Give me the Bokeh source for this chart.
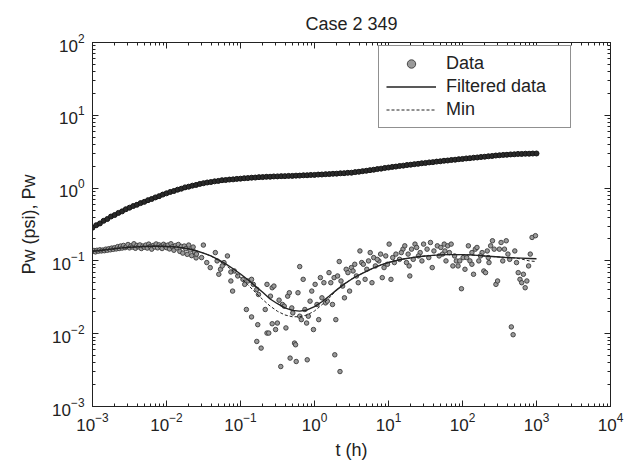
from bokeh.plotting import figure
from bokeh.models import (LogAxis, FixedTicker, LogTickFormatter, CustomJSTickFormatter,
                          Legend, LegendItem, ColumnDataSource)
from bokeh.embed import file_html
from bokeh.resources import INLINE

# ---------------- data ----------------
title_text = "Case 2 349"
x_label = "t (h)"
y_label = "Pw (psi), Pw"
x_ticks = [1e-3, 1e-2, 1e-1, 1e0, 1e1, 1e2, 1e3, 1e4]
y_ticks = [1e-3, 1e-2, 1e-1, 1e0, 1e1, 1e2]

# pressure (upper curve)
t_pw = [
    1.000e-3, 1.122e-3, 1.259e-3, 1.413e-3, 1.585e-3, 1.778e-3, 1.995e-3, 2.239e-3, 2.512e-3, 2.818e-3,
    3.162e-3, 3.548e-3, 3.981e-3, 4.467e-3, 5.012e-3, 5.623e-3, 6.310e-3, 7.079e-3, 7.943e-3, 8.913e-3,
    1.000e-2, 1.122e-2, 1.259e-2, 1.413e-2, 1.585e-2, 1.778e-2, 1.995e-2, 2.239e-2, 2.512e-2, 2.818e-2,
    3.162e-2, 3.548e-2, 3.981e-2, 4.467e-2, 5.012e-2, 5.623e-2, 6.310e-2, 7.079e-2, 7.943e-2, 8.913e-2,
    1.000e-1, 1.122e-1, 1.259e-1, 1.413e-1, 1.585e-1, 1.778e-1, 1.995e-1, 2.239e-1, 2.512e-1, 2.818e-1,
    3.162e-1, 3.548e-1, 3.981e-1, 4.467e-1, 5.012e-1, 5.623e-1, 6.310e-1, 7.079e-1, 7.943e-1, 8.913e-1,
    1.000, 1.122, 1.259, 1.413, 1.585, 1.778, 1.995, 2.239, 2.512, 2.818,
    3.162, 3.548, 3.981, 4.467, 5.012, 5.623, 6.310, 7.079, 7.943, 8.913,
    10.00, 11.22, 12.59, 14.13, 15.85, 17.78, 19.95, 22.39, 25.12, 28.18,
    31.62, 35.48, 39.81, 44.67, 50.12, 56.23, 63.10, 70.79, 79.43, 89.13,
    100.0, 112.2, 125.9, 141.3, 158.5, 177.8, 199.5, 223.9, 251.2, 281.8,
    316.2, 354.8, 398.1, 446.7, 501.2, 562.3, 631.0, 707.9, 794.3, 891.3,
    1000.0,
]
pw = [
    0.286, 0.309, 0.327, 0.355, 0.376, 0.407, 0.427, 0.456, 0.479, 0.512,
    0.538, 0.567, 0.590, 0.622, 0.647, 0.682, 0.709, 0.745, 0.775, 0.815,
    0.848, 0.885, 0.912, 0.951, 0.981, 1.023, 1.046, 1.080, 1.105, 1.141,
    1.168, 1.194, 1.211, 1.238, 1.255, 1.283, 1.291, 1.310, 1.318, 1.338,
    1.348, 1.365, 1.372, 1.389, 1.396, 1.413, 1.416, 1.429, 1.432, 1.445,
    1.448, 1.459, 1.460, 1.471, 1.472, 1.483, 1.485, 1.499, 1.502, 1.515,
    1.518, 1.533, 1.538, 1.553, 1.558, 1.573, 1.579, 1.597, 1.603, 1.621,
    1.627, 1.658, 1.677, 1.709, 1.730, 1.763, 1.788, 1.826, 1.851, 1.890,
    1.917, 1.953, 1.975, 2.013, 2.035, 2.074, 2.096, 2.132, 2.154, 2.193,
    2.216, 2.253, 2.274, 2.312, 2.335, 2.374, 2.395, 2.433, 2.455, 2.493,
    2.516, 2.553, 2.575, 2.613, 2.635, 2.674, 2.697, 2.737, 2.761, 2.801,
    2.826, 2.856, 2.870, 2.900, 2.914, 2.944, 2.946, 2.964, 2.966, 2.983,
    2.988,
]

# derivative data (lower scatter)
t_der = [
    1.000e-3, 1.047e-3, 1.096e-3, 1.148e-3, 1.202e-3, 1.259e-3, 1.318e-3, 1.380e-3, 1.445e-3, 1.514e-3,
    1.585e-3, 1.660e-3, 1.738e-3, 1.820e-3, 1.905e-3, 1.995e-3, 2.089e-3, 2.188e-3, 2.291e-3, 2.399e-3,
    2.512e-3, 2.630e-3, 2.754e-3, 2.884e-3, 3.020e-3, 3.162e-3, 3.311e-3, 3.467e-3, 3.631e-3, 3.802e-3,
    3.981e-3, 4.169e-3, 4.365e-3, 4.571e-3, 4.786e-3, 5.012e-3, 5.248e-3, 5.495e-3, 5.754e-3, 6.026e-3,
    6.310e-3, 6.607e-3, 6.918e-3, 7.244e-3, 7.586e-3, 7.943e-3, 8.318e-3, 8.710e-3, 9.120e-3, 9.550e-3,
    1.000e-2, 1.047e-2, 1.096e-2, 1.148e-2, 1.202e-2, 1.259e-2, 1.318e-2, 1.380e-2, 1.445e-2, 1.514e-2,
    1.585e-2, 1.660e-2, 1.738e-2, 1.820e-2, 1.905e-2, 1.995e-2, 2.089e-2, 2.188e-2, 2.291e-2, 2.399e-2,
    2.512e-2,
    0.0315, 0.0254, 0.0298, 0.0350, 0.0390, 0.0457, 0.0483, 0.0537, 0.0598, 0.0666,
    0.0509, 0.0567, 0.0741, 0.0825, 0.0741, 0.0782, 0.0918, 0.108, 0.114, 0.126,
    0.141, 0.149, 0.166, 0.175, 0.120, 0.141, 0.171, 0.166, 0.190, 0.216,
    0.228, 0.254, 0.268, 0.283, 0.228, 0.241, 0.268, 0.298, 0.315, 0.332,
    0.350, 0.369, 0.390, 0.411, 0.434, 0.457, 0.468, 0.493, 0.509, 0.537,
    0.555, 0.566, 0.598, 0.631, 0.631, 0.665, 0.703, 0.741, 0.782, 0.798,
    0.825, 0.871, 0.918, 0.968, 1.02, 1.08, 1.14, 1.20, 1.26, 1.34,
    1.41, 1.49, 1.66, 1.75, 1.84, 1.88, 1.94, 2.05, 2.16, 2.21,
    2.28, 2.40, 2.54, 2.68, 2.83, 2.98, 3.15, 3.50, 3.69, 3.90,
    4.11, 4.34, 4.57, 4.83, 5.09, 5.37, 5.66, 5.98, 6.31, 6.65,
    7.41, 7.82, 8.24, 8.71, 9.18, 9.68, 10.2, 10.8, 11.4, 12.0,
    12.6, 14.1, 15.7, 16.6, 17.5, 18.4, 19.4, 20.5, 21.6, 22.8,
    24.0, 26.8, 28.3, 29.8, 33.2, 36.9, 39.0, 41.1, 45.7, 50.9,
    53.7, 56.6, 59.8, 63.1, 70.3, 74.1, 78.2, 82.5, 87.1, 91.8,
    96.8, 102, 108, 120, 126, 134, 141, 149, 157, 166,
    184, 194, 205, 216, 228, 240, 254, 268, 283, 298,
    315, 332, 350, 390, 411, 434, 457, 483, 509, 537,
    566, 598, 631, 665, 703, 741, 782, 824, 871, 968,
    48.3, 66.5, 114, 175, 369, 14.9, 25.4, 35.0, 7.03, 3.32, 1.57, 223, 134, 57.9, 19.0,
]
der = [
    0.134, 0.139, 0.133, 0.140, 0.136, 0.142, 0.137, 0.141, 0.138, 0.145,
    0.140, 0.147, 0.142, 0.150, 0.144, 0.152, 0.146, 0.157, 0.148, 0.160,
    0.150, 0.163, 0.152, 0.158, 0.168, 0.151, 0.161, 0.155, 0.172, 0.149,
    0.163, 0.156, 0.166, 0.148, 0.160, 0.154, 0.165, 0.150, 0.170, 0.158,
    0.145, 0.163, 0.155, 0.171, 0.151, 0.166, 0.157, 0.148, 0.169, 0.160,
    0.152, 0.165, 0.146, 0.172, 0.156, 0.140, 0.162, 0.151, 0.168, 0.135,
    0.158, 0.128, 0.160, 0.147, 0.123, 0.165, 0.141, 0.118, 0.155, 0.132,
    0.110,
    0.165, 0.124, 0.111, 0.0948, 0.0809, 0.130, 0.100, 0.0767, 0.0948, 0.117,
    0.0655, 0.0853, 0.0705, 0.0727, 0.0530, 0.0385, 0.0621, 0.0558, 0.0476, 0.0530,
    0.0558, 0.0476, 0.0406, 0.0346, 0.0215, 0.0170, 0.0133, 0.00783, 0.00634, 0.0215,
    0.0476, 0.0328, 0.0428, 0.0451, 0.0102, 0.0102, 0.0137, 0.0114, 0.0140, 0.0289,
    0.00354, 0.0252, 0.0239, 0.0120, 0.0328, 0.0365, 0.00462, 0.0226, 0.0193, 0.00743,
    0.00705, 0.00415, 0.0365, 0.0835, 0.0174, 0.0156, 0.0558, 0.0215, 0.0140, 0.00438,
    0.0174, 0.0280, 0.0385, 0.0114, 0.0476, 0.0252, 0.0156, 0.0589, 0.0311, 0.0502,
    0.0265, 0.0280, 0.0502, 0.0252, 0.0589, 0.00513, 0.0156, 0.0621, 0.098, 0.00302,
    0.0530, 0.0451, 0.0311, 0.0767, 0.0690, 0.0385, 0.0809, 0.0899, 0.0621, 0.0502,
    0.137, 0.0948, 0.0899, 0.0558, 0.0767, 0.100, 0.130, 0.0502, 0.111, 0.0853,
    0.100, 0.124, 0.0589, 0.0809, 0.117, 0.0899, 0.170, 0.0558, 0.111, 0.0948,
    0.124, 0.105, 0.145, 0.161, 0.0948, 0.124, 0.0621, 0.145, 0.105, 0.170,
    0.153, 0.130, 0.100, 0.170, 0.145, 0.179, 0.0809, 0.137, 0.161, 0.153,
    0.124, 0.170, 0.100, 0.161, 0.170, 0.0853, 0.117, 0.100, 0.0853, 0.100,
    0.0415, 0.111, 0.0767, 0.161, 0.100, 0.0899, 0.0655, 0.145, 0.153, 0.100,
    0.130, 0.0727, 0.0690, 0.137, 0.0948, 0.161, 0.189, 0.145, 0.0476, 0.0530,
    0.145, 0.179, 0.100, 0.189, 0.124, 0.105, 0.0124, 0.00968, 0.137, 0.0948,
    0.0690, 0.0558, 0.0502, 0.0655, 0.0428, 0.0530, 0.0853, 0.124, 0.210, 0.222,
    0.117, 0.130, 0.111, 0.117, 0.145, 0.130, 0.117, 0.111, 0.105, 0.0727, 0.0690, 0.111, 0.130, 0.137, 0.0853,
]

# filtered derivative and minimum curve
t_fit = [
    1.000e-3, 1.259e-3, 1.585e-3, 1.995e-3, 2.512e-3, 3.162e-3, 3.981e-3, 5.012e-3, 6.310e-3, 7.943e-3,
    1.000e-2, 1.259e-2, 1.585e-2, 1.995e-2, 2.512e-2, 3.162e-2, 3.981e-2, 5.012e-2, 6.310e-2, 7.943e-2,
    1.000e-1, 1.259e-1, 1.585e-1, 1.995e-1, 2.512e-1, 3.162e-1, 3.981e-1, 5.012e-1, 6.310e-1, 7.943e-1,
    1.000, 1.259, 1.585, 1.995, 2.512, 3.162, 3.981, 5.012, 6.310, 7.943,
    10.00, 12.59, 15.85, 19.95, 25.12, 31.62, 39.81, 50.12, 63.10, 79.43,
    100.0, 125.9, 158.5, 199.5, 251.2, 316.2, 398.1, 501.2, 631.0, 794.3,
    1000.0,
]
filtered = [
    0.136, 0.139, 0.143, 0.147, 0.151, 0.154, 0.156, 0.158, 0.159, 0.159,
    0.158, 0.156, 0.152, 0.146, 0.138, 0.128, 0.117, 0.104, 0.091, 0.078,
    0.066, 0.055, 0.045, 0.037, 0.030, 0.0258, 0.0226, 0.0209, 0.0204, 0.0212,
    0.0235, 0.0275, 0.033, 0.040, 0.048, 0.056, 0.064, 0.072, 0.080, 0.088,
    0.095, 0.101, 0.106, 0.110, 0.114, 0.117, 0.119, 0.121, 0.122, 0.122,
    0.122, 0.121, 0.119, 0.117, 0.115, 0.113, 0.111, 0.110, 0.109, 0.108,
    0.107,
]
minimum = [
    0.136, 0.139, 0.143, 0.147, 0.151, 0.154, 0.156, 0.158, 0.159, 0.159,
    0.158, 0.156, 0.152, 0.146, 0.138, 0.128, 0.117, 0.102, 0.087, 0.073,
    0.059, 0.047, 0.037, 0.0295, 0.0240, 0.0203, 0.0181, 0.0171, 0.0171, 0.0181,
    0.0205, 0.0250, 0.031, 0.040, 0.048, 0.056, 0.064, 0.072, 0.080, 0.088,
    0.095, 0.101, 0.106, 0.110, 0.114, 0.117, 0.119, 0.121, 0.122, 0.122,
    0.122, 0.121, 0.119, 0.117, 0.115, 0.113, 0.111, 0.110, 0.106, 0.100,
    0.098,
]

# ---------------- figure ----------------
FONT = "Liberation Sans"
INK = "#222222"

p = figure(width=625, height=469, x_axis_type="log", y_axis_type="log",
           x_range=(1e-3, 1e4), y_range=(1e-3, 1e2),
           output_backend="svg", toolbar_location=None,
           min_border_left=92, min_border_right=15, min_border_top=42, min_border_bottom=63,
           title=title_text, x_axis_label=x_label, y_axis_label=y_label)
p.background_fill_color = "white"
p.border_fill_color = "white"
p.outline_line_color = INK
p.xgrid.visible = False
p.ygrid.visible = False

p.title.align = "center"
p.title.text_font = FONT
p.title.text_font_style = "normal"
p.title.text_font_size = "18px"
p.title.text_color = INK
p.title.text_line_height = 0.9
p.title.standoff = 18

x_minor = [m * t for t in x_ticks[:-1] for m in range(2, 10)]
y_minor = [m * t for t in y_ticks[:-1] for m in range(2, 10)]

bottom = p.below[0]
left = p.left[0]
bottom.ticker = FixedTicker(ticks=x_ticks, minor_ticks=x_minor)
left.ticker = FixedTicker(ticks=y_ticks, minor_ticks=y_minor)
bottom.formatter = LogTickFormatter()
left.formatter = LogTickFormatter()

top = LogAxis(ticker=FixedTicker(ticks=x_ticks, minor_ticks=x_minor),
              formatter=CustomJSTickFormatter(code="return ''"))
right = LogAxis(ticker=FixedTicker(ticks=y_ticks, minor_ticks=y_minor),
                formatter=CustomJSTickFormatter(code="return ''"))
p.add_layout(top, "above")
p.add_layout(right, "right")

for ax in (bottom, left, top, right):
    ax.axis_line_color = INK
    ax.axis_line_width = 1
    ax.major_tick_in = 6
    ax.major_tick_out = 0
    ax.minor_tick_in = 3
    ax.minor_tick_out = 0
    ax.major_tick_line_color = INK
    ax.minor_tick_line_color = INK
    ax.major_label_text_font = FONT
    ax.major_label_text_font_size = "17px"
    ax.major_label_text_color = INK
    ax.axis_label_text_font = FONT
    ax.axis_label_text_font_style = "normal"
    ax.axis_label_text_font_size = "18px"
    ax.axis_label_text_color = INK

top.major_label_standoff = 0
right.major_label_standoff = 0
bottom.major_label_standoff = 6
left.major_label_standoff = 8
bottom.axis_label_standoff = 6
left.axis_label_standoff = 10

src_pw = ColumnDataSource(dict(t=t_pw, v=pw))
src_der = ColumnDataSource(dict(t=t_der, v=der))
src_fit = ColumnDataSource(dict(t=t_fit, f=filtered, m=minimum))

p.scatter("t", "v", source=src_pw, size=5, marker="circle",
          fill_color="#2a2a2a", line_color="#151515", line_width=1)
r_der = p.scatter("t", "v", source=src_der, size=4.5, marker="circle",
                  fill_color="#9a9a9a", line_color="#3a3a3a", line_width=0.9)
r_min = p.line("t", "m", source=src_fit, line_color=INK, line_width=1, line_dash="3 2")
r_fit = p.line("t", "f", source=src_fit, line_color=INK, line_width=1.4)

legend = Legend(items=[LegendItem(label="Data", renderers=[r_der]),
                       LegendItem(label="Filtered data", renderers=[r_fit]),
                       LegendItem(label="Min", renderers=[r_min])],
                location=(286, 278))
legend.border_line_color = INK
legend.border_line_width = 1
legend.background_fill_color = "white"
legend.background_fill_alpha = 1
legend.label_text_font = FONT
legend.label_text_font_size = "18px"
legend.label_text_color = INK
legend.glyph_width = 50
legend.glyph_height = 21
legend.label_height = 21
legend.label_width = 117
legend.label_standoff = 10
legend.spacing = 2
legend.padding = 7
legend.margin = 0
p.add_layout(legend)

open("out.html", "w").write(file_html(p, INLINE))
